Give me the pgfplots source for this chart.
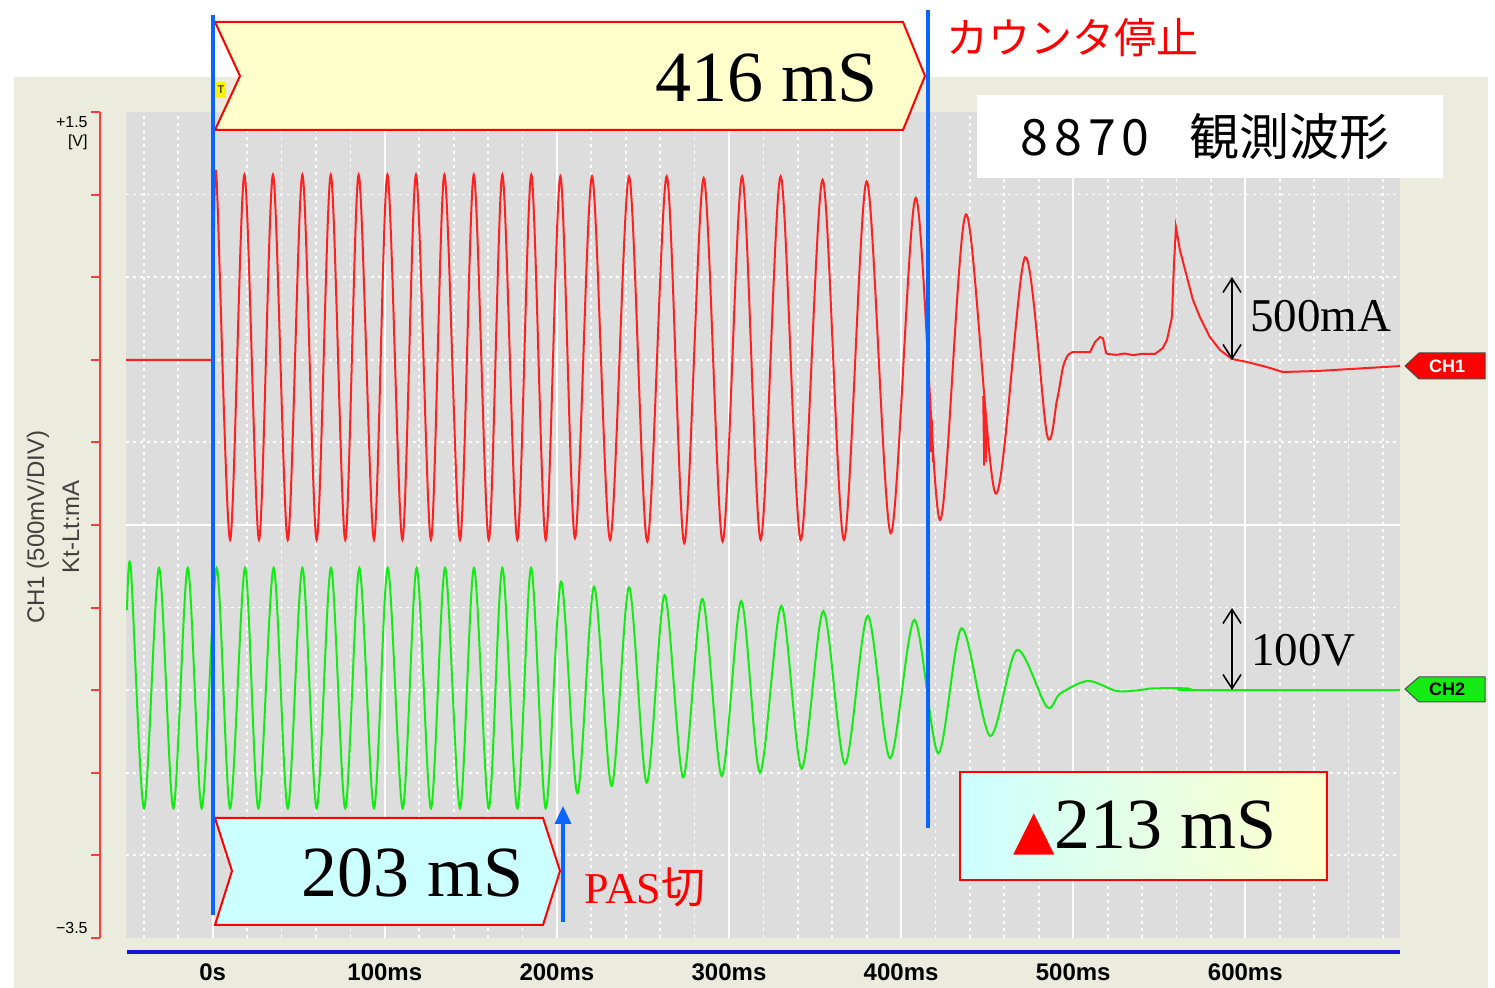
\documentclass[border=0pt]{standalone}
\usepackage{fontspec}
\setmainfont{Liberation Serif}
\newfontfamily\jp{Noto Sans CJK JP}
\newfontfamily\lsans{Liberation Sans}
\newfontfamily\dejavu{DejaVu Sans}
\usepackage{pgfplots}
\pgfplotsset{compat=1.18}
\usetikzlibrary{arrows.meta}

\definecolor{beige}{RGB}{236,236,222}
\definecolor{plotgray}{RGB}{221,221,221}
\definecolor{trred}{RGB}{255,32,32}
\definecolor{trgreen}{RGB}{20,235,20}
\definecolor{cursorblue}{RGB}{10,100,255}
\definecolor{boxyellow}{RGB}{255,255,204}
\definecolor{boxcyan}{RGB}{204,255,255}
\definecolor{axisblue}{RGB}{20,20,215}
\definecolor{scalered}{RGB}{255,60,60}

\begin{document}
\begin{tikzpicture}
% page and screen background (1 px = 0.5 pt, origin top left)
\begin{scope}[x=0.5pt,y=-0.5pt,shift={(0pt,494pt)}]
\fill[white] (0,0) rectangle (1495,988);
\fill[beige] (14,77) rectangle (1488,988);
\end{scope}

\begin{axis}[
    at={(63pt,25pt)}, anchor=south west,
    scale only axis, width=637pt, height=413pt,
    xmin=-50.4, xmax=689.9,
    ymin=-3.5, ymax=1.5,
    axis background/.style={fill=plotgray},
    axis line style={draw=none},
    major tick length=0pt, minor tick length=0pt,
    xtick={0,100,200,300,400,500,600},
    xticklabels={0s,100ms,200ms,300ms,400ms,500ms,600ms},
    x tick label style={anchor=center, yshift=-17pt,
        font=\lsans\bfseries\fontsize{12}{13}\selectfont},
    minor xtick={-40,-20,20,40,60,80,120,140,160,180,220,240,260,280,
        320,340,360,380,420,440,460,480,520,540,560,580,620,640,660,680},
    ytick={-1},
    y tick label style={opacity=0},
    minor ytick={-3,-2.5,-2,-1.5,-0.5,0,0.5,1},
    grid=both,
    major grid style={white, line width=1pt},
    minor grid style={white, line width=0.9pt, dash pattern=on 1.5pt off 2pt},
]

% CH2 voltage
\addplot[trgreen, line width=1pt, smooth] coordinates {
(-49.8,-1.515) (-47.6,-1.26) (-39.9,-2.715) (-31.2,-1.26) (-22.9,-2.715)
(-14.5,-1.26) (-6.4,-2.715) (2.3,-1.26) (10.1,-2.715) (18.8,-1.26)
(26.5,-2.715) (35.4,-1.26) (43.6,-2.715) (52.1,-1.26) (60.4,-2.715)
(68.7,-1.26) (77.0,-2.715) (85.2,-1.26) (93.7,-2.715) (101.7,-1.26)
(110.4,-2.715) (118.5,-1.26) (126.8,-2.715) (135.0,-1.26) (143.7,-2.715)
(151.8,-1.26) (160.4,-2.715) (168.3,-1.26) (177.0,-2.715) (185.0,-1.26)
(193.5,-2.715) (202.4,-1.343) (211.9,-2.624) (221.6,-1.373) (231.8,-2.580)
(241.9,-1.377) (252.2,-2.560) (262.6,-1.424) (273.4,-2.527) (284.5,-1.448)
(295.8,-2.519) (307.1,-1.460) (318.0,-2.499) (330.4,-1.490) (342.2,-2.475)
(354.8,-1.521) (367.4,-2.447) (380.6,-1.549) (393.6,-2.412) (407.7,-1.574)
(421.6,-2.382) (435.2,-1.625) (451.7,-2.277) (467.2,-1.757) (484.6,-2.100)
(492.5,-2.02) (508.6,-1.944) (525.3,-2.005) (538.8,-1.999) (546.4,-1.989)
(566.7,-1.989) (567.9,-1.999) (689.9,-1.999)
};

% CH1 current: baseline before trigger
\addplot[trred, line width=1pt] coordinates {
(-50.4,0) (0,0) (0.4,0.35)
};
% CH1 current: oscillation
\addplot[trred, line width=1pt, smooth] coordinates {
(0.4,0.35) (2.1,1.12) (10.1,-1.09) (18.4,1.12) (26.9,-1.09) (35.0,1.12)
(43.6,-1.09) (52.1,1.12) (60.4,-1.09) (68.6,1.12) (77.0,-1.09) (84.8,1.12)
(93.7,-1.09) (101.5,1.12) (110.2,-1.09) (118.1,1.12) (126.8,-1.09) (134.6,1.12)
(143.7,-1.09) (151.7,1.12) (160.4,-1.09) (168.3,1.12) (177.0,-1.09) (185.1,1.12)
(193.5,-1.09) (202.0,1.11) (210.5,-1.08) (220.4,1.11) (230.9,-1.09) (241.9,1.11)
(252.5,-1.10) (263.8,1.11) (274.0,-1.11) (285.3,1.10) (296.3,-1.10) (307.6,1.11)
(318.4,-1.09) (330.0,1.11) (341.7,-1.09) (354.4,1.09) (366.8,-1.09) (380.0,1.08)
(394.0,-1.05) (408.5,0.98) (422.6,-0.97) (437.7,0.88) (455.0,-0.81) (472.0,0.62)
(484.8,-0.455) (490.6,-0.243) (494.1,-0.044) (497.0,0.029) (499.9,0.047)
};
% CH1 current: tail with the late spike
\addplot[trred, line width=1pt] coordinates {
(499.9,0.047) (509.8,0.047) (512.7,0.108) (515.6,0.138) (517.3,0.13)
(519.1,0.041) (520.2,0.035) (525,0.03) (530,0.038) (535,0.028) (540,0.036)
(547.5,0.035) (552,0.07) (554.5,0.12) (557.4,0.259) (558.5,0.562)
(559.7,0.804) (562.0,0.665) (566.1,0.501) (569.6,0.362) (573.6,0.259)
(579.4,0.138) (585.3,0.059) (592.2,0.005) (600.9,-0.013) (612.5,-0.044)
(621.8,-0.074) (641.6,-0.068) (660.8,-0.056) (689.9,-0.038)
};
% CH1 current: glitches on the falling edges
\addplot[trred, line width=0.8pt] coordinates {
(447.6,-0.22) (448.2,-0.64) (448.8,-0.26) (449.4,-0.62) (450.0,-0.42)
};
\addplot[trred, line width=0.8pt] coordinates {
(416.9,-0.34) (417.4,-0.56) (417.9,-0.36) (418.4,-0.62)
};
\end{axis}

% annotations (1 px = 0.5 pt, origin top left)
\begin{scope}[x=0.5pt,y=-0.5pt,shift={(0pt,494pt)}]
% left scale
\draw[scalered, line width=1pt] (100,112) -- (100,938);
\foreach \k in {0,...,10}
  \draw[scalered, line width=1pt] (91,{112+82.6*\k}) -- (100,{112+82.6*\k});
\node[font=\lsans\fontsize{8}{8}\selectfont, anchor=east, inner sep=0pt] at (88,122) {+1.5};
\node[font=\lsans\fontsize{8}{8}\selectfont, anchor=east, inner sep=0pt] at (88,142) {[V]};
\node[font=\lsans\fontsize{8}{8}\selectfont, anchor=east, inner sep=0pt] at (88,928) {−3.5};
\node[rotate=90, font=\lsans\fontsize{12}{12}\selectfont, text=black!75] at (38,527) {CH1 (500mV/DIV)};
\node[rotate=90, font=\lsans\fontsize{12}{12}\selectfont, text=black!75] at (71,527) {Kt-Lt:mA};

% time axis bar
\draw[axisblue, line width=2pt] (127,952) -- (1400,952);

% trigger marker
\fill[yellow] (213,82) rectangle (226,98);
\node[font=\lsans\fontsize{5.5}{6}\selectfont, inner sep=0pt] at (221,90) {T};

% 416 mS banner
\filldraw[fill=boxyellow, draw=red, line width=1pt]
  (215,22) -- (903,22) -- (925,76) -- (903,130) -- (215,130) -- (240,76) -- cycle;
\node[font=\fontsize{36}{36}\selectfont] at (767,78) {416 mS};

% 203 mS banner
\filldraw[fill=boxcyan, draw=red, line width=1pt]
  (215,818) -- (543,818) -- (560,871) -- (543,925) -- (215,925) -- (232,871) -- cycle;
\node[font=\fontsize{36}{36}\selectfont] at (413,873) {203 mS};

% delta box
\shade[left color=boxcyan, right color=boxyellow] (960,772) rectangle (1327,880);
\draw[red, line width=1pt] (960,772) rectangle (1327,880);
\node[font=\fontsize{36}{36}\selectfont, inner sep=0pt] at (1145,828)
  {{\dejavu\fontsize{27}{27}\selectfont\color{red}▲}213 mS};

% cursors
\draw[cursorblue, line width=2pt] (212.7,15) -- (212.7,915);
\draw[cursorblue, line width=2pt] (927.5,10) -- (927.5,828);

% PAS cut arrow
\draw[cursorblue, line width=1.6pt, -{Triangle[length=9pt,width=8pt]}] (563,922) -- (563,806);
\node[text=red, font=\fontsize{22}{22}\selectfont, inner sep=0pt] at (645,887) {PAS{\jp 切}};

% counter stop
\node[text=red, font=\jp\fontsize{21}{21}\selectfont, inner sep=0pt] at (1072,38) {カウンタ停止};

% title box
\fill[white] (977,95) rectangle (1443,178);
\node[font=\jp\fontsize{25}{25}\selectfont, inner sep=0pt] at (1205,137)
  {8\hspace{3pt}8\hspace{3pt}7\hspace{3pt}0\hspace{20pt}観測波形};

% scale arrows
\draw[line width=0.8pt, {Straight Barb[length=7pt,width=9pt]}-{Straight Barb[length=7pt,width=9pt]}]
  (1232,277) -- (1232,360);
\node[font=\fontsize{23.5}{24}\selectfont, anchor=west, inner sep=0pt] at (1250,316) {500mA};
\draw[line width=0.8pt, {Straight Barb[length=7pt,width=9pt]}-{Straight Barb[length=7pt,width=9pt]}]
  (1232,608) -- (1232,690);
\node[font=\fontsize{23.5}{24}\selectfont, anchor=west, inner sep=0pt] at (1251,650) {100V};

% channel markers
\filldraw[fill=red, draw=black!70, line width=0.5pt]
  (1405,366) -- (1419,353) -- (1485,353) -- (1485,379) -- (1419,379) -- cycle;
\node[text=white, font=\lsans\bfseries\fontsize{9}{9}\selectfont, inner sep=0pt] at (1447,366) {CH1};
\filldraw[fill=trgreen, draw=black!70, line width=0.5pt]
  (1405,689) -- (1419,677) -- (1485,677) -- (1485,702) -- (1419,702) -- cycle;
\node[text=black, font=\lsans\bfseries\fontsize{9}{9}\selectfont, inner sep=0pt] at (1447,689) {CH2};
\end{scope}

\pgfresetboundingbox
\useasboundingbox (0,0) rectangle (747.5pt,494pt);
\end{tikzpicture}
\end{document}
